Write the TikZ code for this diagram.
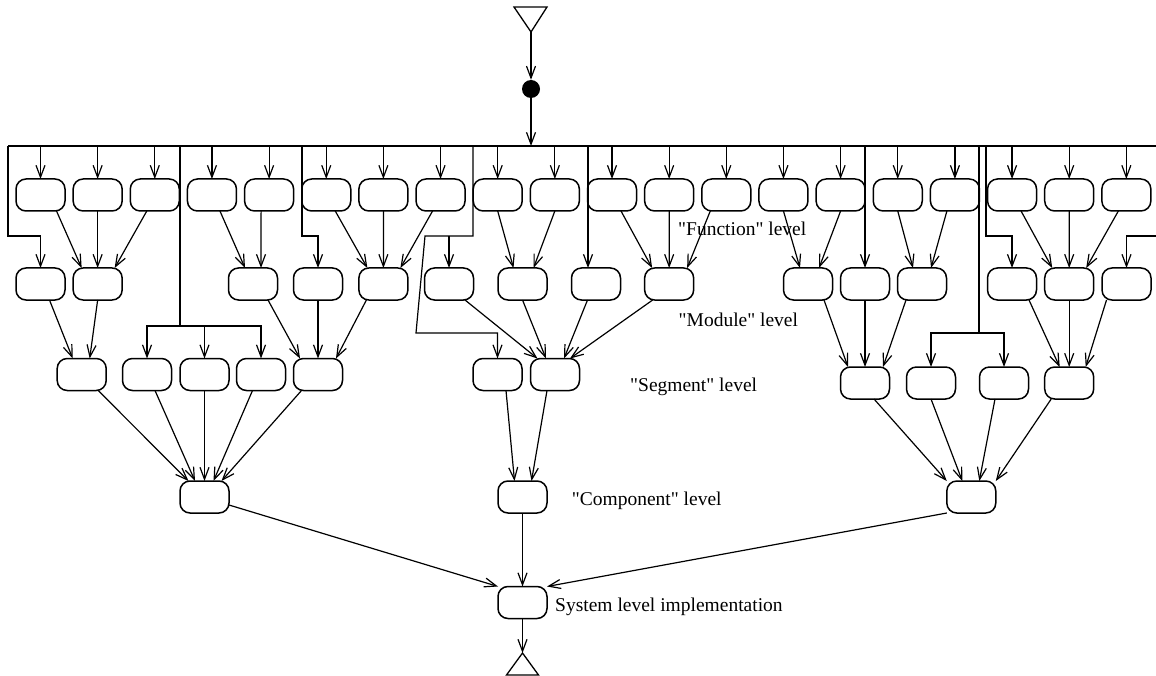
\documentclass[tikz,border=0pt]{standalone}
\usepackage{fontspec}
\setmainfont{Liberation Serif}
\usetikzlibrary{arrows.meta,positioning}

\begin{document}
\begin{tikzpicture}[
  x=1pt, y=-1pt,
  font=\fontsize{19.5}{23}\selectfont,
  node distance=8.15pt,
  block/.style={draw, rounded corners=10pt, minimum width=49pt, minimum height=32pt, inner sep=0pt, outer sep=0pt, line width=1.5pt},
  wire/.style={line width=1.2pt},
  flow/.style={wire, -{Straight Barb[length=12pt,width=9pt]}},
  level/.style={anchor=base west, inner sep=0pt},
]
\useasboundingbox (0,0) rectangle (1156,676);

% entry and fork bar
\draw[line width=1.3pt] (514,7) -- (547,7) -- (531,32) -- cycle;
\coordinate (src) at (531,32);
\node[circle, fill, minimum size=18pt, inner sep=0pt] (dot) at (531,89) {};
\coordinate (barL) at (8,146);
\coordinate (barR) at (1170,146);
\draw[flow] (src) -- (dot);
\draw[flow] (dot) -- (dot |- barL);
\draw[wire] (barL) -- (barR);

% "Function" level
\node[block] (f1) at (40.5,195) {};
\foreach \i [count=\j from 2] in {1,...,19}
  \node[block, right=of f\i] (f\j) {};
\foreach \i in {1,...,20}
  \draw[flow] (f\i.north |- barL) -- (f\i.north);

% "Module" level
\node[block] (m1) at (40.5,284) {};
\node[block] (m2) at (97.65,284) {};
\node[block] (m3) at (253,284) {};
\node[block] (m4) at (318,284) {};
\node[block] (m5) at (383.4,284) {};
\node[block] (m6) at (449,284) {};
\node[block] (m7) at (522.5,284) {};
\node[block] (m8) at (596,284) {};
\node[block] (m9) at (669.15,284) {};
\node[block] (m10) at (808,284) {};
\node[block] (m11) at (865,284) {};
\node[block] (m12) at (922,284) {};
\node[block] (m13) at (1012,284) {};
\node[block] (m14) at (1069.2,284) {};
\node[block] (m15) at (1126.5,284) {};

% "Segment" level
\node[block] (s1) at (81.7,374.5) {};
\node[block] (s2) at (147,374.5) {};
\node[block] (s3) at (204.5,374.5) {};
\node[block] (s4) at (261,374.5) {};
\node[block] (s5) at (318,374.5) {};
\node[block] (s6) at (497.5,374.5) {};
\node[block] (s7) at (555,374.5) {};
\node[block] (s8) at (865,383) {};
\node[block] (s9) at (931,383) {};
\node[block] (s10) at (1004,383) {};
\node[block] (s11) at (1069.2,383) {};

% "Component" level and system
\node[block] (c1) at (204.5,497) {};
\node[block] (c2) at (522.5,497) {};
\node[block] (c3) at (971.3,497) {};
\node[block] (sys) at (522.5,602.5) {};
\coordinate (sink) at (522.5,653);
\draw[line width=1.3pt] (sink) -- (538.5,675) -- (506.5,675) -- cycle;

% labels
\node[level] (lblfun) at (678,236) {\textquotedbl Function\textquotedbl{} level};
\node[level] (lblmod) at (678.5,326) {\textquotedbl Module\textquotedbl{} level};
\node[level] (lblseg) at (630,391) {\textquotedbl Segment\textquotedbl{} level};
\node[level] (lblcomp) at (571.7,505) {\textquotedbl Component\textquotedbl{} level};
\node[level] (lblsys) at (555,611) {System level implementation};

% bypasses from the bar
\draw[flow] (barL) -- (8,236) -| (m1.north);
\draw[wire] (180,146) -- (180,326);
\draw[flow] (180,326) -| (s2.north);
\draw[flow] (180,326) -| (s3.north);
\draw[flow] (180,326) -| (s4.north);
\draw[flow] (302,146) -- (302,236) -| (m4.north);
\draw[flow] (473,146) -- (473,236) -- (425,236) -- (416,333) -| (s6.north);
\draw[flow] (m6.north |- 0,236) -- (m6.north);
\draw[flow] (588,146) -- (588,268);
\draw[flow] (m11.north |- barL) -- (m11.north);
\draw[wire] (979,146) -- (979,333);
\draw[flow] (979,333) -| (s9.north);
\draw[flow] (979,333) -| (s10.north);
\draw[flow] (986,146) -- (986,236) -| (m13.north);
\draw[flow] (barR) -- (1170,236) -| (m15.north);

% function -> module
\draw[flow] ([xshift=16pt]f1.south) -- ([xshift=-16pt]m2.north);
\draw[flow] (f2.south) -- (m2.north);
\draw[flow] ([xshift=-8pt]f3.south) -- ([xshift=17pt]m2.north);
\draw[flow] ([xshift=8pt]f4.south) -- ([xshift=-8pt]m3.north);
\draw[flow] ([xshift=-8pt]f5.south) -- ([xshift=8pt]m3.north);
\draw[flow] ([xshift=9pt]f6.south) -- ([xshift=-16pt]m5.north);
\draw[flow] (f7.south) -- (m5.north);
\draw[flow] ([xshift=-8pt]f8.south) -- ([xshift=17pt]m5.north);
\draw[flow] (f9.south) -- ([xshift=-9pt]m7.north);
\draw[flow] (f10.south) -- ([xshift=11pt]m7.north);
\draw[flow] ([xshift=9pt]f11.south) -- ([xshift=-17pt]m9.north);
\draw[flow] (f12.south) -- (m9.north);
\draw[flow] ([xshift=-16pt]f13.south) -- ([xshift=18pt]m9.north);
\draw[flow] (f14.south) -- ([xshift=-8pt]m10.north);
\draw[flow] (f15.south) -- ([xshift=11pt]m10.north);
\draw[flow] (f16.south) -- ([xshift=-9pt]m12.north);
\draw[flow] ([xshift=-8pt]f17.south) -- ([xshift=9pt]m12.north);
\draw[flow] ([xshift=9pt]f18.south) -- ([xshift=-17pt]m14.north);
\draw[flow] (f19.south) -- (m14.north);
\draw[flow] ([xshift=-8pt]f20.south) -- ([xshift=17pt]m14.north);

% module -> segment
\draw[flow] ([xshift=9pt]m1.south) -- ([xshift=-9pt]s1.north);
\draw[flow] (m2.south) -- ([xshift=8pt]s1.north);
\draw[flow] ([xshift=15pt]m3.south) -- ([xshift=-18pt]s5.north);
\draw[flow] (m4.south) -- (s5.north);
\draw[flow] ([xshift=-17pt]m5.south) -- ([xshift=18pt]s5.north);
\draw[flow] ([xshift=16pt]m6.south) -- ([xshift=-17.5pt]s7.north);
\draw[flow] (m7.south) -- ([xshift=-9pt]s7.north);
\draw[flow] ([xshift=-8.5pt]m8.south) -- ([xshift=9pt]s7.north);
\draw[flow] ([xshift=-16.5pt]m9.south) -- ([xshift=15pt]s7.north);
\draw[flow] ([xshift=16pt]m10.south) -- ([xshift=-17pt]s8.north);
\draw[flow] (m11.south) -- (s8.north);
\draw[flow] ([xshift=-16pt]m12.south) -- ([xshift=18pt]s8.north);
\draw[flow] ([xshift=17pt]m13.south) -- ([xshift=-9.5pt]s11.north);
\draw[flow] (m14.south) -- (s11.north);
\draw[flow] ([xshift=-20pt]m15.south) -- ([xshift=16.5pt]s11.north);

% segment -> component
\draw[flow] ([xshift=16.5pt]s1.south) -- ([xshift=-16pt]c1.north);
\draw[flow] ([xshift=8pt]s2.south) -- ([xshift=-9.5pt]c1.north);
\draw[flow] (s3.south) -- (c1.north);
\draw[flow] ([xshift=-8.5pt]s4.south) -- ([xshift=9pt]c1.north);
\draw[flow] ([xshift=-16.5pt]s5.south) -- ([xshift=17pt]c1.north);
\draw[flow] ([xshift=8.5pt]s6.south) -- ([xshift=-8pt]c2.north);
\draw[flow] ([xshift=-8pt]s7.south) -- ([xshift=9pt]c2.north);
\draw[flow] ([xshift=9pt]s8.south) -- (c3.north west);
\draw[flow] (s9.south) -- ([xshift=-9pt]c3.north);
\draw[flow] ([xshift=-9pt]s10.south) -- ([xshift=8pt]c3.north);
\draw[flow] ([xshift=-18pt]s11.south) -- (c3.north east);

% component -> system
\draw[flow] ([yshift=-8pt]c1.east) -- (sys.north west);
\draw[flow] (c2.south) -- (sys.north);
\draw[flow] (c3.south west) -- (sys.north east);
\draw[flow] (sys.south) -- (sink);
\end{tikzpicture}
\end{document}
